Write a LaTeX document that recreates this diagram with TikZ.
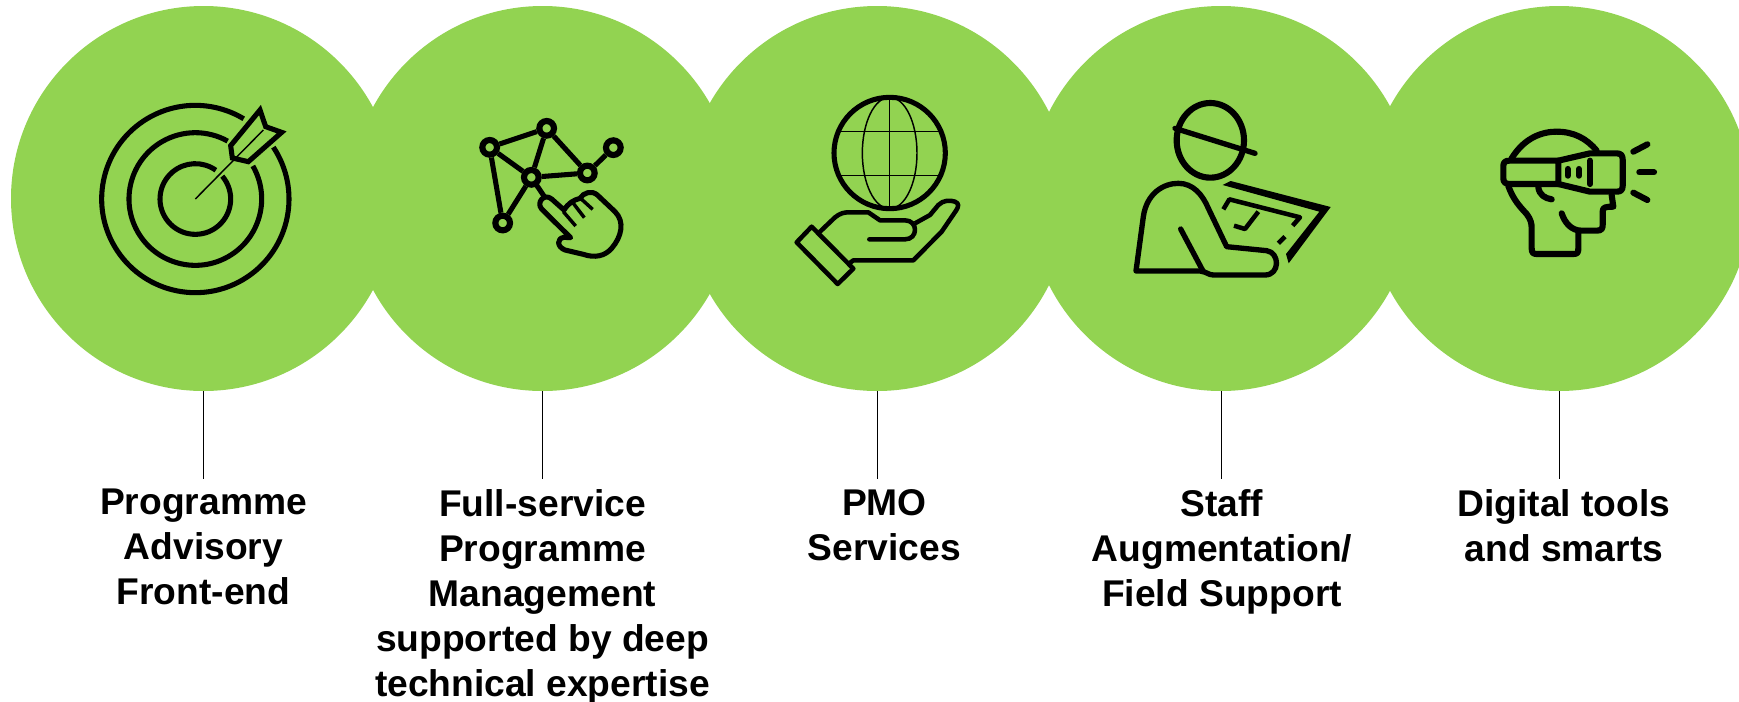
\documentclass[tikz,border=0pt]{standalone}
\usepackage{fontspec}
\setmainfont{Liberation Sans}
\definecolor{leaf}{HTML}{92D351}
\begin{document}
\begin{tikzpicture}[x=.75pt, y=-.75pt,
  main/.style = {circle, fill=leaf, minimum size=288.75pt, inner sep=0pt},
  caption/.style = {anchor=north, inner sep=0pt, align=center, font=\fontsize{27.9pt}{33.75pt}\selectfont\bfseries, execute at begin node=\strut},
  stem/.style = {line width=.75pt},
  icon/.style = {line width=3.8pt, line join=round},
  fine/.style = {line width=1.1pt},
  hub/.style = {circle, draw, line width=4.6pt, fill=leaf, minimum size=11pt, inner sep=0pt}]
\useasboundingbox (0,0) rectangle (1739,701);
\node[main] (1) at (203.5,198.5) {};
\node[main] (2) at (542.5,198.5) {};
\node[main] (3) at (877,198.5) {};
\node[main] (4) at (1221,198.5) {};
\node[main] (5) at (1559,198.5) {};
\coordinate (e1) at (203.5,479);
\coordinate (e2) at (542.5,479);
\coordinate (e3) at (877,479);
\coordinate (e4) at (1221,479);
\coordinate (e5) at (1559,479);
\draw[stem] (1.south) -- (e1);
\draw[stem] (2.south) -- (e2);
\draw[stem] (3.south) -- (e3);
\draw[stem] (4.south) -- (e4);
\draw[stem] (5.south) -- (e5);
\node[caption] (t1) at (203.5,489) {Programme\\Advisory\\Front-end};
\node[caption] (t2) at (542.5,489) {Full-service\\Programme\\Management\\supported by deep\\technical expertise};
\node[caption] (t3) at (884.5,489) {PMO\\Services};
\node[caption] (t4) at (1222,489) {Staff\\Augmentation/\\Field Support};
\node[caption] (t5) at (1564,489) {Digital tools\\and smarts};
% target
\begin{scope}[x=.25pt, y=-.25pt]
\draw[icon] ([shift={(-33.6:281)}]586,597) arc[start angle=-33.6, end angle=301.1, radius=281];
\draw[icon] ([shift={(-29.9:199)}]586,597) arc[start angle=-29.9, end angle=299.2, radius=199];
\draw[icon] ([shift={(-40.3:106)}]586,597) arc[start angle=-40.3, end angle=305.5, radius=106];
\draw[fine] (586,597) -- (790,390);
\draw[icon, line join=miter] (780,330) -- (797,380) -- (845,397) -- (745,485) -- (697,474) -- (692,437) -- cycle;
\end{scope}
% network and pointing hand
\begin{scope}[shift={(440,90)}, x=.25pt, y=-.25pt]
\draw[icon] (274,262) -- (320,330);
\node[hub] (a) at (149,172) {};
\node[hub] (b) at (320,115) {};
\node[hub] (c) at (274,262) {};
\node[hub] (d) at (442,249) {};
\node[hub] (f) at (520,173) {};
\node[hub] (g) at (188,399) {};
\draw[icon] (a) -- (b);
\draw[icon] (a) -- (c);
\draw[icon] (a) -- (g);
\draw[icon] (b) -- (c);
\draw[icon] (b) -- (d);
\draw[icon] (c) -- (d);
\draw[icon] (c) -- (g);
\draw[icon] (d) -- (f);
\draw[icon, fill=leaf] (392,443) -- (305,357) .. controls (288,338) and (312,308) .. (335,327) -- (372,360)
  .. controls (385,340) and (400,330) .. (420,325) .. controls (430,308) and (455,300) .. (472,315) -- (525,365)
  .. controls (555,395) and (545,440) .. (515,475) .. controls (495,498) and (465,505) .. (430,493) -- (375,480)
  .. controls (350,470) and (350,445) .. (372,442) -- cycle;
\draw[line width=2.6pt] (370,365) -- (407,408);
\draw[line width=2.6pt] (400,340) -- (433,383);
\draw[line width=2.6pt] (425,328) -- (458,358);
\end{scope}
% globe on a hand
\begin{scope}[shift={(770,80)}, x=.25pt, y=-.25pt]
\draw[icon] (359,219) circle[radius=167];
\draw[fine] (359,219) ellipse[x radius=82, y radius=167];
\draw[fine] (359,52) -- (359,386);
\draw[fine] (208,154) -- (510,154);
\draw[fine] (208,286) -- (510,286);
\draw[icon, line width=3.4pt] (125,440) -- (250,566) -- (203,612) -- (80,487) -- cycle;
\draw[icon, line width=3.4pt, line cap=round] (150,455) -- (195,412) .. controls (210,400) and (222,397) .. (235,397) -- (295,397) -- (330,421) -- (405,421)
  .. controls (445,421) and (445,478) .. (405,478) -- (298,478);
\draw[icon, line width=3.4pt] (435,430) -- (480,405) -- (505,375) .. controls (520,360) and (540,360) .. (555,365) .. controls (568,370) and (566,380) .. (558,392)
  -- (515,455) -- (430,541) -- (250,541) -- (238,550);
\end{scope}
% worker with a plan
\begin{scope}[shift={(1110,80)}, x=.25pt, y=-.25pt]
\draw[icon, line width=4.6pt] (301,181) ellipse[x radius=101, y radius=112];
\draw[icon, line width=4pt, line cap=round] (195,145) -- (435,220);
\draw[icon, line width=4pt, line cap=round] (78,573) -- (100,410) .. controls (110,340) and (160,310) .. (205,310)
  .. controls (250,310) and (278,345) .. (295,385) -- (350,500) -- (470,512) .. controls (510,518) and (510,585) .. (465,585)
  -- (310,585) .. controls (295,585) and (290,575) .. (270,573) -- cycle;
\draw[icon, line width=4pt, line cap=round] (212,447) -- (280,575);
\fill (338,315) -- (362,303) -- (662,381) -- (536,550) -- (528,522) -- (628,395) -- cycle;
\draw[icon, line width=3.4pt] (340,388) -- (358,358) -- (570,412) -- (548,437);
\draw[icon, line width=3.4pt] (445,395) -- (405,447) -- (372,437);
\draw[icon, line width=3.4pt] (525,470) -- (505,490);
\end{scope}
% headset
\begin{scope}[shift={(1470,110)}, x=.25pt, y=-.25pt]
\begin{scope}[line width=4.6pt, line cap=round, line join=round]
\draw (125,145) .. controls (165,80) and (220,65) .. (260,65) .. controls (310,65) and (350,85) .. (380,122);
\draw (115,228) .. controls (130,270) and (150,290) .. (170,312) .. controls (182,328) and (185,340) .. (185,355) -- (185,415)
  .. controls (185,428) and (190,432) .. (200,432) -- (310,432) .. controls (322,432) and (325,428) .. (325,415) -- (325,365);
\draw (275,310) .. controls (285,340) and (305,362) .. (335,362) -- (380,362) .. controls (395,362) and (398,355) .. (398,345) -- (398,305)
  .. controls (398,292) and (405,290) .. (430,290) -- (425,255);
\draw (205,232) .. controls (208,255) and (225,265) .. (245,268);
\draw (118,152) -- (265,152) -- (265,222) -- (118,222) .. controls (105,222) and (100,215) .. (100,205) -- (100,168) .. controls (100,158) and (105,152) .. (118,152) -- cycle;
\draw (265,152) -- (360,130) -- (440,130) .. controls (452,130) and (458,136) .. (458,148) -- (458,228) .. controls (458,240) and (452,245) .. (440,245)
  -- (360,245) -- (265,222);
\draw (360,152) -- (360,222);
\draw (293,177) -- (293,197);
\draw (327,177) -- (327,197);
\draw (490,125) -- (532,103);
\draw (508,187) -- (552,187);
\draw (490,248) -- (532,270);
\end{scope}
\end{scope}
\end{tikzpicture}
\end{document}
